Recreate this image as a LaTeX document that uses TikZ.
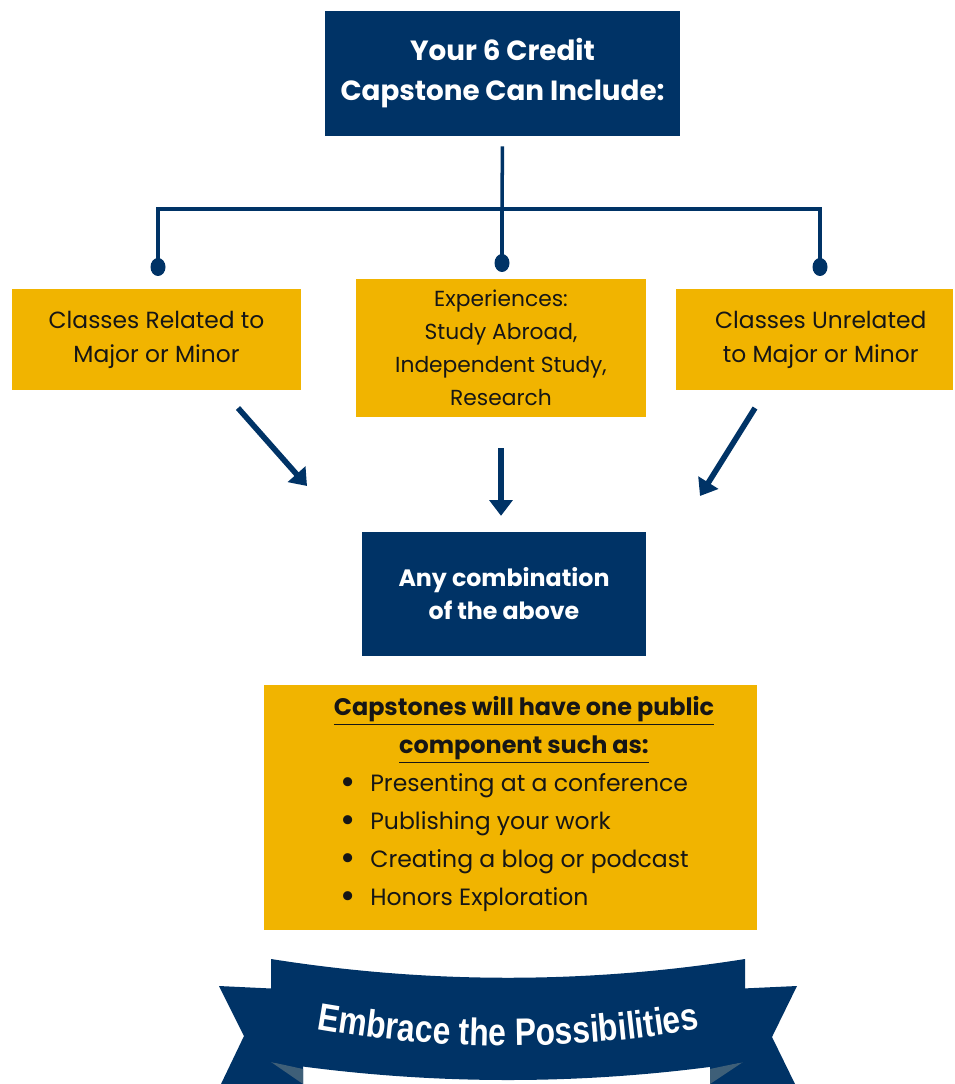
\documentclass[tikz,border=0pt]{standalone}
\usepackage{fontspec}
\setmainfont{Poppins}
\newfontfamily\bannerfont[FakeStretch=0.83]{Liberation Sans}
\usetikzlibrary{arrows.meta,decorations.text,positioning}
\definecolor{navy}{RGB}{0,51,102}
\definecolor{gold}{RGB}{241,180,0}
\definecolor{fold}{RGB}{62,95,120}
\definecolor{ink}{RGB}{22,22,22}
\tikzset{>={Triangle[width=13pt,length=9pt]}}

\begin{document}
\begin{tikzpicture}[x=0.02cm,y=-0.02cm,
    navybox/.style={fill=navy, text=white, align=center, inner sep=0pt, font=\bfseries},
    goldbox/.style={fill=gold, text=ink, align=center, inner sep=0pt},
    link/.style={navy, line width=2pt},
    flow/.style={navy, line width=3.2pt, ->},
    itemtext/.style={text=ink, inner sep=0pt, anchor=west, font=\fontsize{13.4pt}{16pt}\selectfont}]
    \useasboundingbox (0,0) rectangle (954,1084);

    % Draw the title box and the three kinds of credit
    \node[navybox, minimum width=7.1cm, minimum height=2.5cm, font=\bfseries\fontsize{15.8pt}{22.7pt}\selectfont] (title) at (502.5,73.5) {Your 6 Credit\\Capstone Can Include:};
    \node[goldbox, minimum width=5.78cm, minimum height=2.02cm, font=\fontsize{13.3pt}{19.3pt}\selectfont] (related) at (156.5,339.5) {Classes Related to\\Major or Minor};
    \node[goldbox, minimum width=5.8cm, minimum height=2.76cm, font=\fontsize{12.4pt}{18.7pt}\selectfont] (exper) at (501,348) {Experiences:\\Study Abroad,\\Independent Study,\\Research};
    \node[goldbox, minimum width=5.54cm, minimum height=2.02cm, font=\fontsize{13.3pt}{19.3pt}\selectfont] (unrelated) at (814.5,339.5) {\hspace{0.25cm}Classes Unrelated\\\hspace{0.25cm}to Major or Minor};

    % Draw the branching lines with the dots
    \coordinate (hub) at (502,209);
    \coordinate (dotL) at (158,267);
    \coordinate (dotM) at (502,263);
    \coordinate (dotR) at (820,267);
    \draw[link, shorten <=5.7pt] (title.south) -- (hub);
    \draw[link] (dotL) |- (hub) -| (dotR);
    \draw[link] (hub) -- (dotM);
    \foreach \d in {dotL,dotM,dotR}
        \fill[navy] (\d) ellipse [x radius=7.5, y radius=9];

    % Draw the combination box and the arrows into it
    \node[navybox, minimum width=5.68cm, minimum height=2.48cm, font=\bfseries\fontsize{13.5pt}{18.7pt}\selectfont] (combo) at (504,594) {Any combination\\of the above};
    \coordinate (aL1) at (238,408);
    \coordinate (aL2) at (307,486);
    \coordinate (aR1) at (755,408);
    \coordinate (aR2) at (700,496);
    \draw[flow] (aL1) -- (aL2);
    \draw[flow, shorten <=17.6pt, shorten >=9pt] (exper) -- (exper |- combo.north);
    \draw[flow] (aR1) -- (aR2);

    % Draw the public component box with its list
    \node[goldbox, minimum width=9.86cm, minimum height=4.9cm] (public) at (510.5,807.5) {};
    \node[text=ink, align=center, inner sep=0pt, font=\bfseries\fontsize{13.6pt}{21.5pt}\selectfont] (pubhead) at (524,730) {\underline{Capstones will have one public}\\\underline{component such as:}};
    \foreach \txt [count=\i] in {Presenting at a conference, Publishing your work, Creating a blog or podcast, Honors Exploration}
        \node[itemtext] (item\i) at (340,748+38*\i) {\makebox[0.6cm][l]{\raisebox{-1.6pt}{\fontsize{21pt}{21pt}\selectfont\textbullet}}\txt};

    % Draw the ribbon: tails, folds, band and its text
    \fill[navy] (219,986) -- (303,990) -- (303,1084) -- (221,1084) -- (244,1036) -- cycle;
    \fill[navy] (797,986) -- (710,990) -- (710,1084) -- (795,1084) -- (772,1037) -- cycle;
    \fill[fold] (271,1062) -- (303,1069) -- (303,1084) -- cycle;
    \fill[fold] (743,1062) -- (710,1069) -- (710,1084) -- cycle;
    \fill[navy] (271,959) .. controls (429,984) and (587,984) .. (745,959) -- (745,1062) .. controls (587,1086) and (429,1086) .. (271,1062) -- cycle;
    \path[decorate, decoration={text along path, text align=center, text color=white,
        text={|\bannerfont\bfseries\fontsize{21.8pt}{24pt}\selectfont|Embrace the Possibilities}}]
        (290,1024) .. controls (435,1053) and (581,1053) .. (726,1024);
\end{tikzpicture}
\end{document}
